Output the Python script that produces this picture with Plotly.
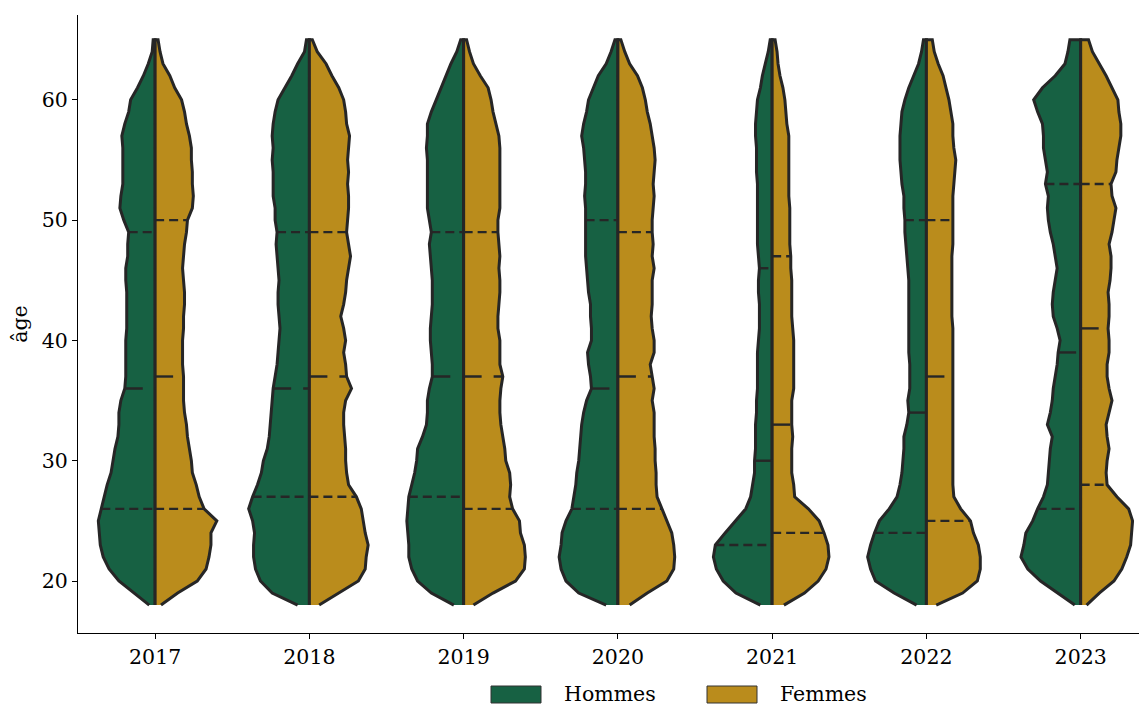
import numpy as np
import plotly.graph_objects as go

years = ["2017", "2018", "2019", "2020", "2021", "2022", "2023"]
ages = list(range(18, 66))

# relative density (half-width), ages 18..65
dens_h_2017 = [6,22,37,47,53,56,57,58,55,52, 49,45,43,41,38,37,37,35,31,30, 30,30,30,29,29,29,29,30,30,28, 28,27,32,36,35,33,33,33,33,34, 31,27,25,18,12,7,3,2]
dens_f_2017 = [6,23,43,52,55,57,57,63,50,45, 42,38,37,35,33,32,30,29,29,29, 28,28,28,29,29,30,30,29,28,29, 30,32,33,38,39,38,38,37,37,35, 32,30,27,20,15,8,5,3]
dens_h_2018 = [12,38,50,55,57,57,56,58,62,58, 53,49,47,43,41,40,39,38,37,35, 33,32,31,30,31,32,32,31,32,33, 34,33,35,35,37,37,37,38,37,38, 37,35,32,25,18,12,5,3]
dens_f_2018 = [10,30,50,57,58,60,57,55,53,48, 40,38,37,37,36,35,35,37,43,38, 37,35,37,35,32,35,37,38,40,42, 40,38,39,40,40,39,40,39,40,41, 38,37,35,30,23,17,8,3]
dens_h_2019 = [10,33,47,53,56,56,57,58,57,56, 53,50,48,47,42,38,37,37,35,32, 32,33,34,34,33,32,32,32,33,34, 35,33,35,37,37,37,37,37,38,37, 37,33,28,23,18,13,7,3]
dens_f_2019 = [10,30,53,62,63,62,58,57,50,47, 48,47,43,42,40,38,37,37,38,40, 37,37,37,35,35,36,37,37,36,37, 36,35,35,37,37,37,37,37,37,36, 33,30,28,25,17,10,6,3]
dens_h_2020 = [12,40,53,58,60,58,57,53,47,45, 43,42,40,39,38,37,35,32,27,28, 30,31,27,27,28,28,30,31,32,33, 33,33,33,33,34,33,33,34,35,37, 35,32,30,25,20,12,7,3]
dens_f_2020 = [12,30,50,57,58,57,55,50,45,40, 39,39,38,38,37,37,37,35,37,35, 33,37,37,35,34,35,35,35,37,35, 36,35,35,36,37,36,37,38,37,35, 33,30,28,25,20,12,7,3]
dens_h_2021 = [12,37,50,57,60,58,48,37,27,22, 20,18,18,17,17,17,16,16,15,15, 15,15,14,13,13,13,14,14,13,14, 15,15,15,15,15,15,16,16,16,17, 17,16,15,12,10,7,4,2]
dens_f_2021 = [12,33,47,55,58,57,53,48,37,23, 22,20,20,20,21,20,20,20,22,22, 22,22,22,21,20,20,20,20,19,19, 18,18,18,18,17,17,17,17,17,17, 15,14,13,11,8,6,5,3]
dens_h_2022 = [10,33,52,57,60,57,53,48,38,30, 27,25,24,23,23,20,18,19,17,17, 17,18,18,18,18,18,18,18,19,20, 21,22,22,23,23,25,26,27,27,27, 26,25,22,18,13,8,5,3]
dens_f_2022 = [10,37,52,55,55,53,48,45,35,28, 27,27,27,27,27,27,27,27,27,27, 27,27,27,27,26,26,26,26,26,26, 27,27,27,27,27,28,29,30,28,27, 27,25,23,20,17,12,8,6]
dens_h_2023 = [6,24,41,54,61,58,56,49,44,38, 34,33,32,31,29,34,31,29,28,26, 24,23,21,24,28,29,28,26,24,26, 28,31,33,34,33,36,34,36,38,38, 39,44,48,39,26,16,13,11]
dens_f_2023 = [6,19,34,42,47,51,52,53,49,37, 27,26,27,29,27,26,29,32,29,27, 27,29,29,28,29,29,28,30,31,31, 29,32,34,36,32,31,36,37,39,41, 41,39,38,32,26,19,12,8]

# quartiles per year
q1_h  = [26, 27, 27, 26, 23, 24, 26]
med_h = [36, 36, 37, 36, 30, 34, 39]
q3_h  = [49, 49, 49, 50, 46, 50, 53]
q1_f  = [26, 27, 26, 26, 24, 25, 28]
med_f = [37, 37, 37, 37, 33, 37, 41]
q3_f  = [50, 49, 49, 49, 47, 50, 53]

genders = ["Hommes", "Femmes"]

dens_h = [dens_h_2017, dens_h_2018, dens_h_2019, dens_h_2020, dens_h_2021, dens_h_2022, dens_h_2023]
dens_f = [dens_f_2017, dens_f_2018, dens_f_2019, dens_f_2020, dens_f_2021, dens_f_2022, dens_f_2023]

GREEN = "#176143"
GOLD = "#BA8C1C"
EDGE = "#262626"
FONT = "DejaVu Serif"
FS = 20.5
HALF = 0.4
dmax = max(max(max(d) for d in dens_h), max(max(d) for d in dens_f))
scale = HALF / dmax

fig = go.Figure()
a = np.array(ages, dtype=float)
for i, yr in enumerate(years):
    for side, dens, col, name in ((-1, dens_h[i], GREEN, genders[0]), (1, dens_f[i], GOLD, genders[1])):
        w = np.array(dens, dtype=float) * scale
        xs = np.concatenate([i + side * w, [i, i]])
        ys = np.concatenate([a, [a[-1], a[0]]])
        fig.add_trace(go.Scatter(
            x=xs, y=ys, mode="lines", fill="toself", fillcolor=col,
            line=dict(color=EDGE, width=3), name=name,
            showlegend=False, hoverinfo="skip"))
    for side, dens, qs in ((-1, dens_h[i], (q1_h[i], med_h[i], q3_h[i])),
                           (1, dens_f[i], (q1_f[i], med_f[i], q3_f[i]))):
        w = np.array(dens, dtype=float) * scale
        for k, q in enumerate(qs):
            wq = float(np.interp(q, a, w))
            x0, x1 = (i - wq, i) if side < 0 else (i, i + wq)
            dash = "18px,12px" if k == 1 else "9px,5px"
            fig.add_trace(go.Scatter(
                x=[x0, x1], y=[q, q], mode="lines",
                line=dict(color=EDGE, width=2.4, dash=dash),
                showlegend=False, hoverinfo="skip"))

# page is rendered with an 8px body margin; plot area in page pixels:
OFF = 8
PLOT_L, PLOT_R, PLOT_T, PLOT_B = 78, 1147, 15, 633
FIG_W, FIG_H = 1147 - OFF, 705 - OFF
PLOT_W, PLOT_H = PLOT_R - PLOT_L, PLOT_B - PLOT_T

def px(x):
    return (x - PLOT_L) / PLOT_W
def py(y):
    return (PLOT_B - y) / PLOT_H

# manual legend (boxes + labels) below the axes
for (bx, tx), name, col in zip(((491, 562), (707, 778)), genders, (GREEN, GOLD)):
    fig.add_shape(type="rect", xref="paper", yref="paper",
                  x0=px(bx), x1=px(bx + 50), y0=py(703), y1=py(686),
                  fillcolor=col, line=dict(color="#333333", width=1))
    fig.add_annotation(text=name, xref="paper", yref="paper", x=px(tx), y=py(694),
                       xanchor="left", yanchor="middle", showarrow=False,
                       font=dict(family=FONT, size=FS, color="black"))

fig.update_layout(
    width=FIG_W, height=FIG_H,
    margin=dict(l=PLOT_L - OFF, r=FIG_W - (PLOT_R - OFF), t=PLOT_T - OFF,
                b=FIG_H - (PLOT_B - OFF), autoexpand=False),
    paper_bgcolor="white", plot_bgcolor="white",
    font=dict(family=FONT, size=FS, color="black"),
    showlegend=False,
)
fig.update_xaxes(range=[-0.5, 6.43], tickvals=list(range(len(years))), ticktext=years,
                 showline=True, linecolor="black", linewidth=1, ticks="outside",
                 ticklen=5, tickcolor="black", showgrid=False, zeroline=False,
                 automargin=False, tickfont=dict(family=FONT, size=FS))
fig.update_yaxes(range=[15.68, 67.05], tickvals=[20, 30, 40, 50, 60],
                 showline=True, linecolor="black", linewidth=1, ticks="outside",
                 ticklen=5, tickcolor="black", showgrid=False, zeroline=False,
                 automargin=False,
                 title=dict(text="âge", font=dict(family=FONT, size=FS), standoff=17),
                 tickfont=dict(family=FONT, size=FS))

fig.write_html("out.html")
